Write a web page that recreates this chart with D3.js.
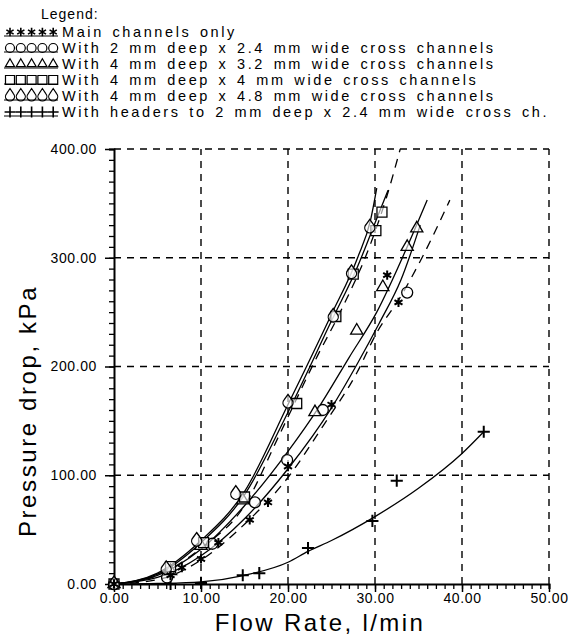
<!DOCTYPE html>
<html>
<head>
<meta charset="utf-8">
<script src="https://cdn.jsdelivr.net/npm/d3@7"></script>
<style>
  body { margin: 0; background: #ffffff; }
  svg { display: block; }
  text { font-family: "Liberation Sans", Arial, sans-serif; fill: #000; }
</style>
</head>
<body>
<script>
// ---- data ----
var xTicks = [0, 10, 20, 30, 40, 50];
var yTicks = [0, 100, 200, 300, 400];

var legendLabels = [
  "Main channels only",
  "With 2 mm deep x 2.4 mm wide cross channels",
  "With 4 mm deep x 3.2 mm wide cross channels",
  "With 4 mm deep x 4 mm wide cross channels",
  "With 4 mm deep x 4.8 mm wide cross channels",
  "With headers to 2 mm deep x 2.4 mm wide cross ch."
];
var legendSymbols = ["star", "circle", "triangle", "square", "drop", "plus"];

// measured points  [flow l/min, pressure kPa]
var mainPts = [[0,0],[6.5,8],[7.8,15],[10,23],[12,38],[15.6,59],[17.7,75],[20,108],[25,165],[31.4,284],[32.7,259]];
var circlePts = [[0,0],[6.1,6],[11.3,37],[16.2,75],[19.9,114],[24,160],[33.7,268]];
var trianglePts = [[0,0],[6.5,12],[10,35],[14.8,77],[23.1,158],[27.9,233],[30.9,273],[33.7,310],[34.8,327]];
var squarePts = [[0,0],[6.5,16],[10.3,38],[15,80],[21,166],[25.5,246],[27.5,285],[30.1,325],[30.8,342]];
var dropPts = [[0,0],[6,14],[9.5,40],[14,83],[20,167],[25.2,246],[27.3,286],[29.4,328]];
var headerPts = [[0,0],[6.5,0],[10,1],[14.8,8],[16.7,10],[22.3,33],[29.7,58],[32.5,95],[42.5,140]];

// fitted curves
var squareFit = [[0,0],[5,9],[10,38],[15,82],[20,158],[25,242],[28,292],[30,332],[31.5,362]];
var dropFit = [[0,0],[5,10],[10,40],[15,85],[20,165],[25,248],[28,300],[29.5,335],[30.2,364]];
var dashFitA = [[0,0],[5,8],[10,33],[15,72],[19,137],[23.4,210],[26,250],[29.5,313],[31.3,355],[32.9,400]];
var triangleFit = [[0,0],[5,8],[10,32],[15,72],[20,122],[23.5,162],[27,208],[30.2,250],[33.7,310],[36,353]];
var mainFit = [[0,0],[5,6],[10,26],[15,60],[20,106],[25,162],[28,203],[30.5,240],[33,280],[35.2,330]];
var circleFit = [[0,0],[5,4],[10,22],[15,55],[20,98],[24,145],[27.9,194],[30.2,231],[33,265],[35.4,300],[38.6,353]];
var headerFit = [[0,0],[5,0.5],[10,2],[15,8],[20,20],[22.3,30],[25,40],[30,62],[35,88],[40,120],[42.5,140]];

var WIDTH = 568, HEIGHT = 636;

var svg = d3.select("body").append("svg")
            .attr("width", WIDTH)
            .attr("height", HEIGHT);

var x = d3.scaleLinear().domain([0, 50]).range([114, 549]);
var y = d3.scaleLinear().domain([0, 400]).range([584, 149]);

// dashed grid
svg.append("g").selectAll("line").data(xTicks.slice(1)).join("line")
   .attr("x1", d => x(d)).attr("x2", d => x(d))
   .attr("y1", y(0)).attr("y2", y(400))
   .style("stroke", "#000").style("stroke-width", 1.4)
   .style("stroke-dasharray", "7,6");
svg.append("g").selectAll("line").data(yTicks.slice(1)).join("line")
   .attr("x1", x(0)).attr("x2", x(50))
   .attr("y1", d => y(d)).attr("y2", d => y(d))
   .style("stroke", "#000").style("stroke-width", 1.4)
   .style("stroke-dasharray", "7,6");

// axes
var xAxis = d3.axisBottom(x).tickValues(d3.range(0, 51, 1)).tickSize(5).tickFormat("");
svg.append("g").attr("transform", "translate(0," + y(0) + ")").call(xAxis)
   .call(g => g.select(".domain").style("stroke-width", 2))
   .call(g => g.selectAll(".tick line").style("stroke-width", 1.3));
svg.append("g").attr("transform", "translate(0," + y(0) + ")")
   .call(d3.axisBottom(x).tickValues(xTicks).tickSize(8).tickPadding(1).tickFormat(d3.format(".2f")))
   .call(g => g.select(".domain").remove())
   .call(g => g.selectAll(".tick line").style("stroke-width", 1.5))
   .call(g => g.selectAll("text").style("font-size", "14px").style("letter-spacing", "0.6px")
                .style("font-family", "Liberation Sans"));

var yAxis = d3.axisLeft(y).tickValues(d3.range(0, 401, 10)).tickSize(5).tickFormat("");
svg.append("g").attr("transform", "translate(" + x(0) + ",0)").call(yAxis)
   .call(g => g.select(".domain").style("stroke-width", 2))
   .call(g => g.selectAll(".tick line").style("stroke-width", 1.3));
svg.append("g").attr("transform", "translate(" + x(0) + ",0)")
   .call(d3.axisLeft(y).tickValues(yTicks).tickSize(9).tickPadding(8).tickFormat(d3.format(".2f")))
   .call(g => g.select(".domain").remove())
   .call(g => g.selectAll(".tick line").style("stroke-width", 1.5))
   .call(g => g.selectAll("text").style("font-size", "14px").style("letter-spacing", "0.6px")
                .style("font-family", "Liberation Sans"));

// axis titles
svg.append("text")
   .attr("x", 320).attr("y", 631)
   .attr("text-anchor", "middle")
   .style("font-size", "24px").style("letter-spacing", "2.4px")
   .text("Flow Rate, l/min");
svg.append("text")
   .attr("transform", "translate(36,411) rotate(-90)")
   .attr("text-anchor", "middle")
   .style("font-size", "24px").style("letter-spacing", "2.6px")
   .text("Pressure drop, kPa");

// fitted curves
var line = d3.line().x(d => x(d[0])).y(d => y(d[1])).curve(d3.curveMonotoneX);
var fits = [
  {pts: squareFit, dash: null},
  {pts: dropFit, dash: null},
  {pts: dashFitA, dash: "9,7"},
  {pts: triangleFit, dash: null},
  {pts: mainFit, dash: null},
  {pts: circleFit, dash: "9,7"},
  {pts: headerFit, dash: null}
];
svg.append("g").selectAll("path").data(fits).join("path")
   .attr("d", d => line(d.pts))
   .style("fill", "none").style("stroke", "#000").style("stroke-width", 1.3)
   .style("stroke-dasharray", d => d.dash);

// marker shapes
function markerPath(kind, s)
{
  var r = s / 2;
  if (kind == "circle") return d3.symbol(d3.symbolCircle, Math.PI * r * r)();
  if (kind == "square") return d3.symbol(d3.symbolSquare, s * s)();
  if (kind == "triangle") return d3.symbol(d3.symbolTriangle, s * s * 0.45)();
  if (kind == "plus") return d3.symbol(d3.symbolPlus, s * s * 0.5)();
  if (kind == "star") return d3.symbol(d3.symbolAsterisk, s * s * 0.6)();
  // drop: circle with a point on top
  return "M0," + (-r - 3) + " L" + (r * 0.75) + "," + (-r * 0.55) +
         " A" + r + "," + r + " 0 1 1 " + (-r * 0.75) + "," + (-r * 0.55) + " Z";
}

function drawMarkers(pts, kind, size)
{
  svg.append("g").selectAll("path").data(pts).join("path")
     .attr("transform", d => "translate(" + x(d[0]) + "," + y(d[1]) + ")")
     .attr("d", markerPath(kind, size))
     .style("fill", kind == "star" ? "#000" : "#fff")
     .style("fill-opacity", kind == "star" ? 1 : 0.6)
     .style("stroke", "#000")
     .style("stroke-width", kind == "star" || kind == "plus" ? 2 : 1.3);
}

drawMarkers(headerPts, "plus", 10);
drawMarkers(circlePts, "circle", 11);
drawMarkers(trianglePts, "triangle", 12);
drawMarkers(squarePts, "square", 10);
drawMarkers(dropPts, "drop", 10);
drawMarkers(mainPts, "star", 10);

// legend
svg.append("text").attr("x", 41).attr("y", 19)
   .style("font-size", "14px").style("letter-spacing", "1px")
   .text("Legend:");

legendLabels.forEach(function(label, i)
{
  var cy = 32 + i * 16;
  var row = svg.append("g");
  row.append("line")
     .attr("x1", 4).attr("x2", 58).attr("y1", cy + 4).attr("y2", cy + 4)
     .style("stroke", "#000").style("stroke-width", 1.2);
  row.selectAll("path").data(d3.range(5)).join("path")
     .attr("transform", d => "translate(" + (10 + d * 10.8) + "," + cy + ")")
     .attr("d", markerPath(legendSymbols[i], 9))
     .style("fill", legendSymbols[i] == "star" ? "#000" : "none")
     .style("stroke", "#000")
     .style("stroke-width", legendSymbols[i] == "star" || legendSymbols[i] == "plus" ? 1.6 : 1.2);
  row.append("text")
     .attr("x", 62).attr("y", cy + 5)
     .style("font-size", "14.5px").style("letter-spacing", "2.6px")
     .style("word-spacing", "2px")
     .text(label);
});
</script>
</body>
</html>
